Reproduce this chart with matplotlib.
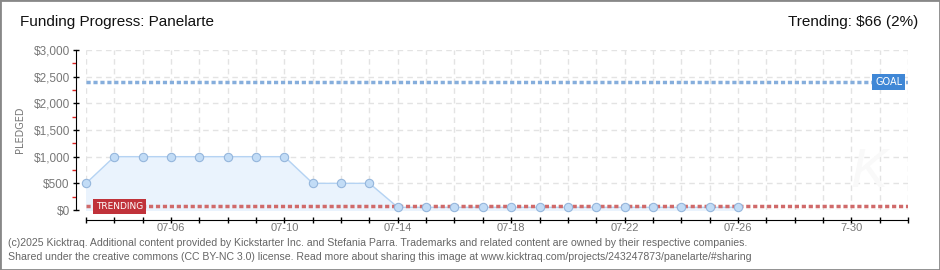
import numpy as np
import matplotlib
matplotlib.use('Agg')
import matplotlib.pyplot as plt
from matplotlib.patches import Rectangle

plt.rcParams['font.family'] = ['Liberation Sans Narrow', 'Liberation Sans', 'DejaVu Sans']

# data (days counted from 07-03)
days = list(range(24))
pledged = [500, 1000, 1000, 1000, 1000, 1000, 1000, 1000, 500, 500, 500,
           50, 50, 50, 50, 50, 50, 50, 50, 50, 50, 50, 50, 50]
goal = 2400
trending = 66
tick_days = [3, 7, 11, 15, 19, 23, 27]
tick_labels = ['07-06', '07-10', '07-14', '07-18', '07-22', '07-26', '7-30']
y_ticks = [0, 500, 1000, 1500, 2000, 2500, 3000]
y_labels = ['$0', '$500', '$1,000', '$1,500', '$2,000', '$2,500', '$3,000']

W, H = 940, 270
fig = plt.figure(figsize=(W / 100, H / 100), dpi=100)
fig.patch.set_facecolor('white')

def px(x0, y0, x1, y1):
    return [x0 / W, 1 - y1 / H, (x1 - x0) / W, (y1 - y0) / H]

ax = fig.add_axes(px(86, 50, 908, 210))
ax.set_xlim(0, 29)
ax.set_ylim(0, 3000)
ax.set_facecolor('white')

# grid
for d in range(30):
    ax.axvline(d, color='#e3e3e3', lw=1, ls=(0, (4, 3)), zorder=0)
for v in y_ticks:
    ax.axhline(v, color='#e3e3e3', lw=1, ls=(0, (4, 3)), zorder=0)

# watermark
ax.text(27.6, 700, 'K', fontsize=40, color='#f9f9f9', style='italic',
        ha='center', va='center', zorder=0)

# area + line + markers
ax.fill_between(days, pledged, 0, color='#eaf3fd', zorder=1)
ax.plot(days, pledged, color='#b5d3f3', lw=1, zorder=2)
ax.plot(days, pledged, ls='none', marker='o', ms=6, mfc='#c2dcf6',
        mec='#95b6dc', mew=0.8, zorder=3, clip_on=False)

# goal and trending lines
ax.axhline(goal, color='#86aedc', lw=2.5, ls=(0, (1.2, 0.8)), zorder=2)
ax.axhline(trending, color='#d06a6a', lw=2.5, ls=(0, (1.2, 0.8)), zorder=2)

ax.text(0.993, goal, 'GOAL', transform=ax.get_yaxis_transform(), ha='right',
        va='center', color='white', fontsize=7, family='DejaVu Sans',
        bbox=dict(boxstyle='square,pad=0.3', fc='#3f87d6', ec='none'), zorder=5)
ax.text(0.012, trending, 'TRENDING', transform=ax.get_yaxis_transform(), ha='left',
        va='center', color='white', fontsize=6.5, family='DejaVu Sans',
        bbox=dict(boxstyle='square,pad=0.3', fc='#c0323a', ec='none'), zorder=5)

# spines (outward offsets are in points: 10 px = 7.2 pt)
for s in ['top', 'right']:
    ax.spines[s].set_visible(False)
ax.spines['left'].set_position(('outward', 7.2))
ax.spines['bottom'].set_position(('outward', 7.2))
ax.spines['left'].set_bounds(0, 3000)
ax.spines['bottom'].set_bounds(0, 29)

ax.set_yticks(y_ticks)
ax.set_yticklabels(y_labels)
ax.set_yticks([250, 750, 1250, 1750, 2250, 2750], minor=True)
ax.tick_params(axis='y', which='major', direction='inout', length=5, width=1,
               colors='black', labelcolor='#777777', labelsize=8.5, pad=2)
ax.tick_params(axis='y', which='minor', direction='out', length=3, width=1,
               colors='#dd2222')

ax.set_xticks(range(30))
ax.set_xticklabels([tick_labels[tick_days.index(d)] if d in tick_days else ''
                    for d in range(30)])
ax.tick_params(axis='x', direction='inout', length=5, width=1, colors='black',
               labelcolor='#777777', labelsize=8, pad=-0.5)

fig.text(20 / W, 1 - 130 / H, 'PLEDGED', rotation=90, ha='center', va='center',
         color='#777777', fontsize=7, family='DejaVu Sans')

fig.text(20 / W, 1 - 22 / H, 'Funding Progress: Panelarte', ha='left',
         va='center', fontsize=11, color='#111111')
fig.text(918 / W, 1 - 22 / H, 'Trending: $66 (2%)', ha='right', va='center',
         fontsize=11, color='#111111')

fig.text(8 / W, 1 - 243 / H,
         '(c)2025 Kicktraq. Additional content provided by Kickstarter Inc. and Stefania Parra. '
         'Trademarks and related content are owned by their respective companies.',
         ha='left', va='center', fontsize=7.6, color='#666666')
fig.text(8 / W, 1 - 257 / H,
         'Shared under the creative commons (CC BY-NC 3.0) license. Read more about sharing this image at '
         'www.kicktraq.com/projects/243247873/panelarte/#sharing',
         ha='left', va='center', fontsize=7.6, color='#666666')

fig.patches.append(Rectangle((0, 0), 1, 1, transform=fig.transFigure, fill=False,
                             ec='#888888', lw=2))

fig.savefig('out.png', dpi=100)
